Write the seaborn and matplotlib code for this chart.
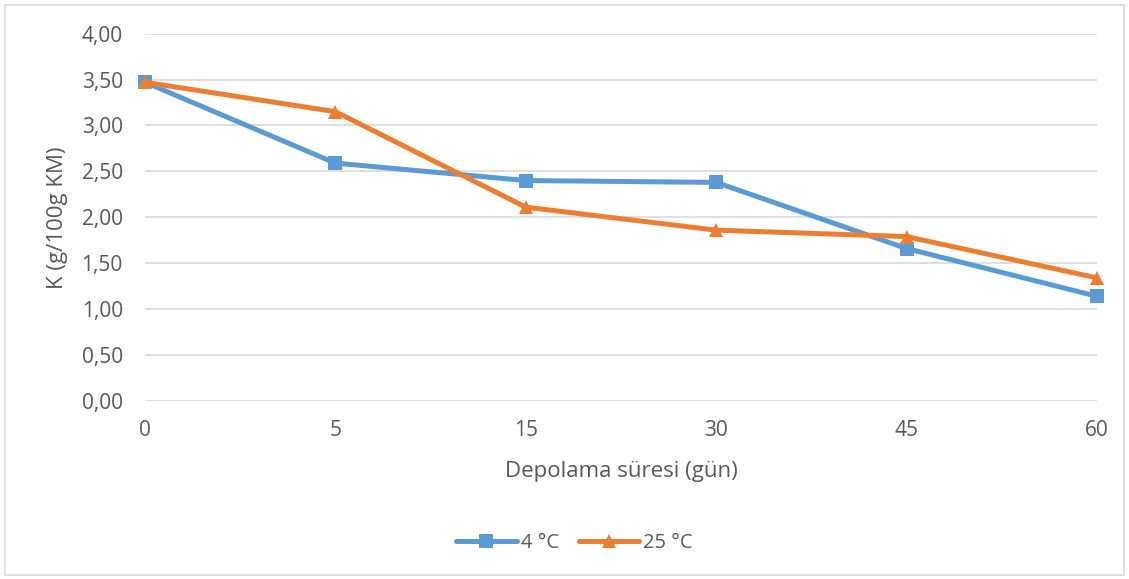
import matplotlib
matplotlib.use("Agg")
import matplotlib.pyplot as plt
from matplotlib.patches import Rectangle
from matplotlib.lines import Line2D
from matplotlib.ticker import FuncFormatter
import seaborn as sns
import pandas as pd

# Storage days and potassium content for two storage temperatures
days = ["0", "5", "15", "30", "45", "60"]
k_4c = [3.47, 2.59, 2.40, 2.38, 1.66, 1.14]
k_25c = [3.47, 3.15, 2.11, 1.86, 1.79, 1.34]
series_names = ["4 °C", "25 °C"]

sns.set_theme(style="white")
plt.rcParams["font.family"] = ["Open Sans", "DejaVu Sans"]

df = pd.DataFrame({
    "pos": list(range(len(days))) * 2,
    "K": k_4c + k_25c,
    "Seri": [series_names[0]] * len(days) + [series_names[1]] * len(days),
})

fig = plt.figure(figsize=(11.29, 5.79), dpi=100)
ax = fig.add_axes([0.1284, 0.3074, 0.9717 - 0.1284, 0.942 - 0.3074])

palette = {series_names[0]: "#5B9BD5", series_names[1]: "#ED7D31"}
markers = {series_names[0]: "s", series_names[1]: "^"}
sns.lineplot(data=df, x="pos", y="K", hue="Seri", style="Seri",
             palette=palette, markers=markers, dashes=False,
             linewidth=3.6, markersize=9.5, markeredgewidth=0,
             ax=ax, legend=False, clip_on=False, zorder=3)

ax.set_xlim(0, len(days) - 1)
ax.set_ylim(0, 4.0)
ax.set_yticks([i * 0.5 for i in range(9)])
ax.yaxis.set_major_formatter(FuncFormatter(lambda v, p: f"{v:.2f}".replace(".", ",")))
ax.set_xticks(range(len(days)))
ax.set_xticklabels(days)
ax.grid(axis="y", color="#D9D9D9", linewidth=1.2)
ax.grid(axis="x", visible=False)
for s in ax.spines.values():
    s.set_visible(False)
ax.tick_params(axis="both", length=0, labelsize=15, colors="#595959")
ax.tick_params(axis="y", pad=16)
ax.tick_params(axis="x", pad=14)

ax.set_xlabel("Depolama süresi (gün)", fontsize=16, color="#595959", labelpad=14)
ax.set_ylabel("K (g/100g KM)", fontsize=16, color="#595959", labelpad=10)

handles = [Line2D([0], [0], color=palette[n], marker=markers[n], lw=3.6,
                  markersize=9.5, markeredgewidth=0, solid_capstyle="round")
           for n in series_names]
fig.legend(handles, series_names, loc="center", bbox_to_anchor=(0.509, 1 - 543 / 579),
           ncol=2, frameon=False, fontsize=14.5, handlelength=3.0,
           columnspacing=1.0, handletextpad=0.2, labelcolor="#595959")

fig.patches.append(Rectangle((5 / 1129, 4 / 579), 1 - 10 / 1129, 1 - 9 / 579,
                             transform=fig.transFigure, fill=False,
                             edgecolor="#D9D9D9", linewidth=1.2))

fig.savefig("out.png", dpi=100, facecolor="white")
